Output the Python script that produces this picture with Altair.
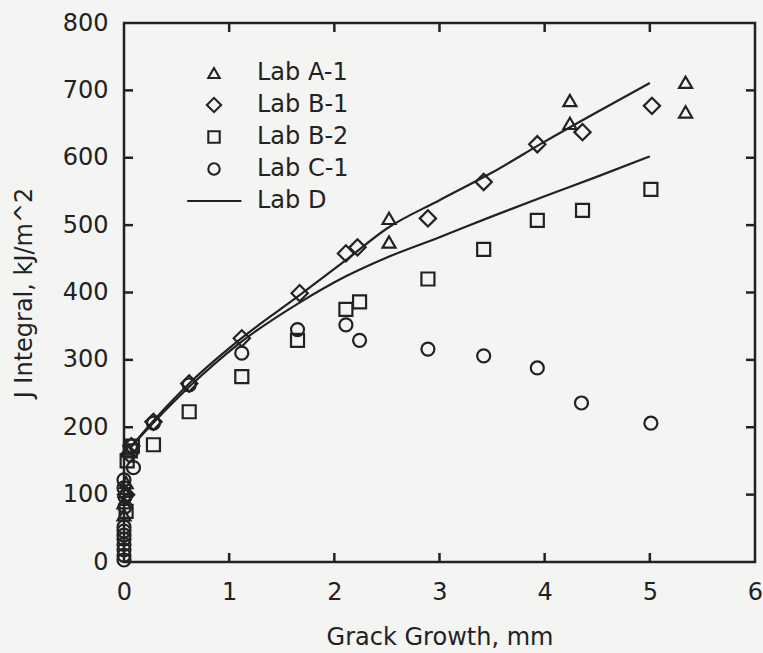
import altair as alt
import pandas as pd

# ---- data ----
labs = ["Lab A-1", "Lab B-1", "Lab B-2", "Lab C-1", "Lab D"]

a1_x = [0.0, 0.0, 0.01, 0.02, 0.04, 2.52, 2.52, 4.24, 4.24, 5.34, 5.34]
a1_y = [70, 88, 105, 118, 165, 510, 475, 685, 651, 712, 668]

b1_x = [0.02, 0.05, 0.07, 0.28, 0.62, 1.12, 1.67, 2.11, 2.22, 2.89, 3.42, 3.93, 4.36, 5.02]
b1_y = [100, 160, 172, 208, 265, 332, 399, 458, 467, 510, 564, 620, 638, 677]

b2_x = [0.02, 0.03, 0.06, 0.08, 0.28, 0.62, 1.12, 1.65, 2.11, 2.24, 2.89, 3.42, 3.93, 4.36, 5.01]
b2_y = [75, 150, 165, 172, 174, 223, 275, 329, 375, 386, 420, 464, 507, 522, 553]

c1_x = [0.0, 0.0, 0.0, 0.0, 0.0, 0.0, 0.0, 0.0, 0.01, 0.01, 0.0, 0.0, 0.09,
        0.28, 0.62, 1.12, 1.65, 2.11, 2.24, 2.89, 3.42, 3.93, 4.35, 5.01]
c1_y = [3, 10, 18, 26, 34, 40, 46, 52, 82, 97, 110, 122, 140,
        206, 263, 310, 345, 352, 329, 316, 306, 288, 236, 206]

d_upper_x = [0.05, 0.3, 0.62, 1.1, 1.67, 2.11, 2.5, 3.0, 3.5, 4.0, 4.5, 5.0]
d_upper_y = [168, 213, 265, 330, 396, 448, 495, 537, 578, 624, 668, 711]
d_lower_x = [0.05, 0.3, 0.62, 1.1, 1.67, 2.11, 2.5, 3.0, 3.5, 4.0, 4.5, 5.0]
d_lower_y = [168, 210, 260, 325, 385, 424, 452, 482, 513, 543, 572, 602]

x_ticks = [0, 1, 2, 3, 4, 5, 6]
y_ticks = [0, 100, 200, 300, 400, 500, 600, 700, 800]

# ---- tables ----
rows = []
for lab, xs, ys in [("Lab A-1", a1_x, a1_y), ("Lab B-1", b1_x, b1_y),
                    ("Lab B-2", b2_x, b2_y), ("Lab C-1", c1_x, c1_y)]:
    for xv, yv in zip(xs, ys):
        rows.append({"x": xv, "y": yv, "lab": lab})
pts = pd.DataFrame(rows)

lrows = []
for name, xs, ys in [("upper", d_upper_x, d_upper_y), ("lower", d_lower_x, d_lower_y)]:
    for xv, yv in zip(xs, ys):
        lrows.append({"x": xv, "y": yv, "curve": name})
lines_df = pd.DataFrame(lrows)

xt_df = pd.DataFrame({"x": x_ticks[1:-1]})
yt_df = pd.DataFrame({"y": y_ticks[1:-1]})

INK = "#222222"
FONT = "DejaVu Sans"
W, H = 631, 539
TICK = 9

xscale = alt.Scale(domain=[0, 6], nice=False, zero=False)
yscale = alt.Scale(domain=[0, 800], nice=False)

shape_range = ["triangle-up", "M-1.25,0L0,-1.25L1.25,0L0,1.25Z", "square", "circle", "M-4.7,0H4.8"]

x_enc = alt.X("x:Q", scale=xscale,
              axis=alt.Axis(orient="bottom", values=x_ticks, ticks=False,
                            domain=False, grid=False, format="d", labelFlush=False,
                            labelFontSize=24, labelFont=FONT, labelColor=INK, labelPadding=18,
                            title="Grack Growth, mm", titleFont=FONT, titleFontSize=24,
                            titleFontWeight="normal", titleColor=INK, titlePadding=21))
y_enc = alt.Y("y:Q", scale=yscale,
              axis=alt.Axis(orient="left", values=y_ticks, ticks=False,
                            domain=False, grid=False, format="d", labelFlush=False,
                            labelFontSize=24, labelFont=FONT, labelColor=INK, labelPadding=16,
                            title="J Integral, kJ/m^2", titleFont=FONT, titleFontSize=24,
                            titleFontWeight="normal", titleColor=INK, titlePadding=26))

points = alt.Chart(pts).mark_point(
    filled=False, strokeWidth=2.2, color=INK, opacity=1, size=169
).encode(
    x=x_enc,
    y=y_enc,
    shape=alt.Shape("lab:N", scale=alt.Scale(domain=labs, range=shape_range),
                    legend=alt.Legend(title=None, orient="none", legendX=78, legendY=38,
                                      symbolSize=130, symbolStrokeWidth=2.1,
                                      symbolStrokeColor=INK, symbolFillColor="transparent",
                                      labelFontSize=24, labelFont=FONT, labelColor=INK,
                                      labelOffset=31, rowPadding=8, padding=0)),
)

lines = alt.Chart(lines_df).mark_line(
    color=INK, strokeWidth=2.2, interpolate="monotone"
).encode(
    x=alt.X("x:Q", scale=xscale),
    y=alt.Y("y:Q", scale=yscale),
    detail="curve:N",
)

# inward ticks on all four sides (centred on the frame, outer half clipped)
tick_style = dict(color=INK, thickness=2.5, size=TICK * 2, opacity=1, clip=True)
t_bottom = alt.Chart(xt_df).mark_tick(orient="vertical", **tick_style).encode(
    x=alt.X("x:Q", scale=xscale), y=alt.value(H))
t_top = alt.Chart(xt_df).mark_tick(orient="vertical", **tick_style).encode(
    x=alt.X("x:Q", scale=xscale), y=alt.value(0))
t_left = alt.Chart(yt_df).mark_tick(orient="horizontal", **tick_style).encode(
    y=alt.Y("y:Q", scale=yscale), x=alt.value(0))
t_right = alt.Chart(yt_df).mark_tick(orient="horizontal", **tick_style).encode(
    y=alt.Y("y:Q", scale=yscale), x=alt.value(W))

chart = alt.layer(points, lines, t_bottom, t_top, t_left, t_right).properties(
    width=W, height=H,
    autosize=alt.AutoSizeParams(type="none"),
    padding={"left": 124, "top": 23, "right": 8, "bottom": 91},
    background="#f4f4f2",
).configure_view(
    stroke=INK, strokeWidth=2.5
)

chart.save("out.html", embed_options={"renderer": "svg", "actions": False})
